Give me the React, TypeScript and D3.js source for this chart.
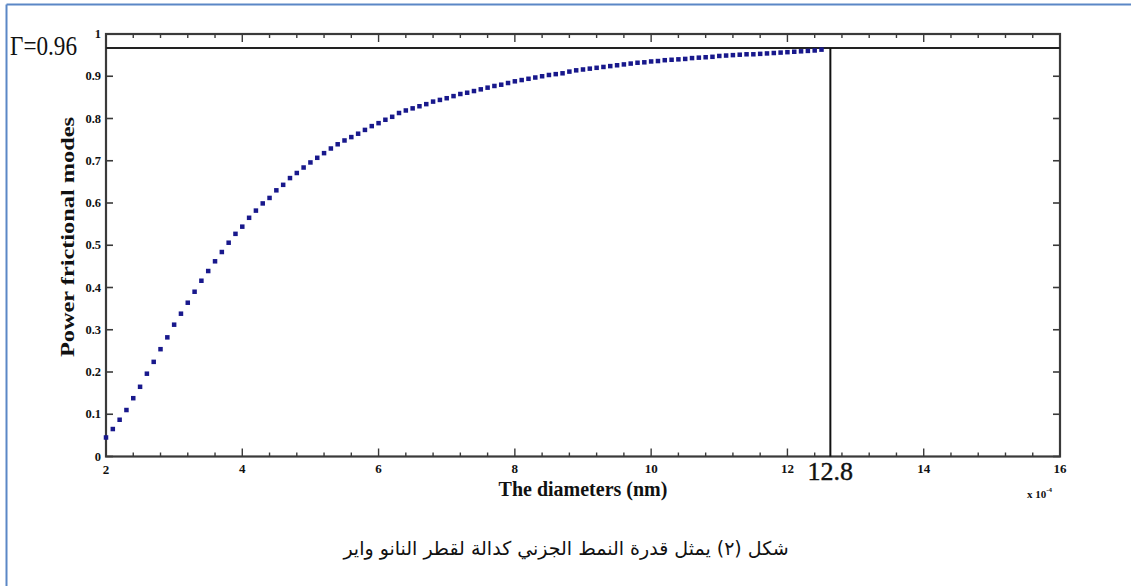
import React from "react";
import * as d3 from "d3";

// ---- data ----
const DIAMETERS: number[] = [
  2.0, 2.1, 2.2, 2.3, 2.4, 2.5, 2.6, 2.7, 2.8, 2.9,
  3.0, 3.1, 3.2, 3.3, 3.4, 3.5, 3.6, 3.7, 3.8, 3.9,
  4.0, 4.1, 4.2, 4.3, 4.4, 4.5, 4.6, 4.7, 4.8, 4.9,
  5.0, 5.1, 5.2, 5.3, 5.4, 5.5, 5.6, 5.7, 5.8, 5.9,
  6.0, 6.1, 6.2, 6.3, 6.4, 6.5, 6.6, 6.7, 6.8, 6.9,
  7.0, 7.1, 7.2, 7.3, 7.4, 7.5, 7.6, 7.7, 7.8, 7.9,
  8.0, 8.1, 8.2, 8.3, 8.4, 8.5, 8.6, 8.7, 8.8, 8.9,
  9.0, 9.1, 9.2, 9.3, 9.4, 9.5, 9.6, 9.7, 9.8, 9.9,
  10.0, 10.1, 10.2, 10.3, 10.4, 10.5, 10.6, 10.7, 10.8, 10.9,
  11.0, 11.1, 11.2, 11.3, 11.4, 11.5, 11.6, 11.7, 11.8, 11.9,
  12.0, 12.1, 12.2, 12.3, 12.4, 12.5,
];

const POWER_FRACTION: number[] = [
  0.045, 0.065, 0.087, 0.110, 0.138, 0.165, 0.196, 0.224, 0.254, 0.282,
  0.312, 0.338, 0.364, 0.390, 0.416, 0.439, 0.462, 0.484, 0.506, 0.527,
  0.544, 0.565, 0.582, 0.599, 0.612, 0.630, 0.643, 0.659, 0.671, 0.684,
  0.696, 0.707, 0.718, 0.729, 0.739, 0.748, 0.756, 0.764, 0.773, 0.782,
  0.789, 0.797, 0.804, 0.813, 0.819, 0.824, 0.829, 0.834, 0.840, 0.844,
  0.848, 0.853, 0.858, 0.861, 0.865, 0.869, 0.873, 0.877, 0.880, 0.884,
  0.888, 0.891, 0.894, 0.897, 0.900, 0.903, 0.905, 0.907, 0.911, 0.914,
  0.916, 0.918, 0.920, 0.922, 0.924, 0.926, 0.928, 0.930, 0.932, 0.933,
  0.935, 0.936, 0.938, 0.939, 0.940, 0.941, 0.943, 0.944, 0.945, 0.946,
  0.948, 0.949, 0.950, 0.951, 0.952, 0.952, 0.953, 0.954, 0.955, 0.956,
  0.957, 0.958, 0.959, 0.960, 0.961, 0.963,
];

const X_MAJOR_TICKS: number[] = [2, 4, 6, 8, 10, 12, 14, 16];
const X_MAJOR_LABELS: string[] = ["2", "4", "6", "8", "10", "12", "14", "16"];
const X_MINOR_STEP = 0.4;
const Y_TICKS: number[] = [0, 0.1, 0.2, 0.3, 0.4, 0.5, 0.6, 0.7, 0.8, 0.9, 1];
const Y_LABELS: string[] = ["0", "0.1", "0.2", "0.3", "0.4", "0.5", "0.6", "0.7", "0.8", "0.9", "1"];

const GAMMA_VALUE = 0.967; // horizontal marker line position
const GAMMA_LABEL = "Γ=0.96";
const CUTOFF_X = 12.63; // vertical marker line position
const CUTOFF_LABEL = "12.8";

const X_TITLE = "The diameters (nm)";
const Y_TITLE = "Power frictional modes";
const X_EXPONENT_BASE = "x 10";
const X_EXPONENT_POWER = "-4";
const CAPTION = "شكل (٢) يمثل قدرة النمط الجزني كدالة لقطر النانو واير";

export default function App() {
  const W = 1131;
  const H = 586;
  const left = 106, right = 1060, top = 34, bottom = 456.5;
  const x = d3.scaleLinear().domain([2, 16]).range([left, right]);
  const y = d3.scaleLinear().domain([0, 1]).range([bottom, top]);

  const minor = d3.range(2, 16.0001, X_MINOR_STEP).filter(
    (v) => !X_MAJOR_TICKS.some((m) => Math.abs(m - v) < 1e-6)
  );

  const frame = "#3a3a3a";
  const serif = "'Liberation Serif', 'Times New Roman', serif";
  const points = DIAMETERS.map((d, i) => [d, POWER_FRACTION[i]] as [number, number]);

  return (
    <svg
      width={W}
      height={H}
      style={{ position: "absolute", left: 0, top: 0, background: "#fff" }}
    >
      {/* blue page frame */}
      <line x1={6.5} y1={4.5} x2={W} y2={4.5} stroke="#5b87c6" strokeWidth={2} />
      <line x1={6.5} y1={4.5} x2={6.5} y2={H} stroke="#5b87c6" strokeWidth={2} />

      {/* axes box */}
      <rect x={left} y={top} width={right - left} height={bottom - top} fill="none" stroke={frame} strokeWidth={2.2} />

      {/* x ticks (bottom and top, inward) */}
      {minor.map((v, i) => (
        <g key={"mn" + i}>
          <line x1={x(v)} x2={x(v)} y1={bottom} y2={bottom - 4} stroke={frame} strokeWidth={1.4} />
          <line x1={x(v)} x2={x(v)} y1={top} y2={top + 4} stroke={frame} strokeWidth={1.4} />
        </g>
      ))}
      {X_MAJOR_TICKS.map((v, i) => (
        <g key={"mj" + i}>
          <line x1={x(v)} x2={x(v)} y1={bottom} y2={bottom - 8} stroke={frame} strokeWidth={1.4} />
          <line x1={x(v)} x2={x(v)} y1={top} y2={top + 8} stroke={frame} strokeWidth={1.4} />
          <text
            x={x(v)}
            y={v === 2 ? bottom + 17 : bottom + 16}
            textAnchor="middle"
            fontFamily={serif}
            fontWeight="bold"
            fontSize={13}
            fill="#111"
          >
            {X_MAJOR_LABELS[i]}
          </text>
        </g>
      ))}

      {/* y ticks (left and right, inward) */}
      {Y_TICKS.map((v, i) => (
        <g key={"y" + i}>
          <line x1={left} x2={left + 7} y1={y(v)} y2={y(v)} stroke={frame} strokeWidth={1.6} />
          <line x1={right} x2={right - 7} y1={y(v)} y2={y(v)} stroke={frame} strokeWidth={1.6} />
          <text
            x={left - 5}
            y={y(v) + 4}
            textAnchor="end"
            fontFamily={serif}
            fontWeight="bold"
            fontSize={12.5}
            fill="#111"
          >
            {Y_LABELS[i]}
          </text>
        </g>
      ))}

      {/* marker lines */}
      <line x1={left} x2={right} y1={y(GAMMA_VALUE)} y2={y(GAMMA_VALUE)} stroke="#222" strokeWidth={2} />
      <line x1={x(CUTOFF_X)} x2={x(CUTOFF_X)} y1={y(GAMMA_VALUE)} y2={bottom} stroke="#111" strokeWidth={2} />

      {/* data points */}
      {points.map(([d, p], i) => (
        <rect key={"p" + i} x={x(d) - 2.25} y={y(p) - 2.25} width={4.5} height={4.5} fill="#18188c" />
      ))}

      {/* annotations */}
      <text
        x={10}
        y={55}
        fontFamily={serif}
        fontSize={27}
        textLength={67}
        lengthAdjust="spacingAndGlyphs"
        fill="#111"
      >
        {GAMMA_LABEL}
      </text>
      <text
        x={x(CUTOFF_X)}
        y={480}
        textAnchor="middle"
        fontFamily={serif}
        fontSize={26}
        stroke="#111"
        strokeWidth={0.4}
        fill="#111"
      >
        {CUTOFF_LABEL}
      </text>

      {/* axis titles */}
      <text
        x={(left + right) / 2}
        y={496}
        textAnchor="middle"
        fontFamily={serif}
        fontWeight="bold"
        fontSize={20}
        fill="#111"
      >
        {X_TITLE}
      </text>
      <text
        transform={`translate(74, 237) rotate(-90)`}
        textAnchor="middle"
        fontFamily={serif}
        fontWeight="bold"
        fontSize={19}
        textLength={240}
        lengthAdjust="spacingAndGlyphs"
        fill="#111"
      >
        {Y_TITLE}
      </text>
      <text x={1027} y={498} fontFamily={serif} fontWeight="bold" fontSize={11} fill="#111">
        {X_EXPONENT_BASE}
        <tspan dy={-6} fontSize={7}>{X_EXPONENT_POWER}</tspan>
      </text>

      {/* caption */}
      <text
        x={566}
        y={555}
        textAnchor="middle"
        direction="rtl"
        fontFamily="'DejaVu Sans', 'Noto Sans', sans-serif"
        fontSize={19}
        fill="#111"
      >
        {CAPTION}
      </text>
    </svg>
  );
}
